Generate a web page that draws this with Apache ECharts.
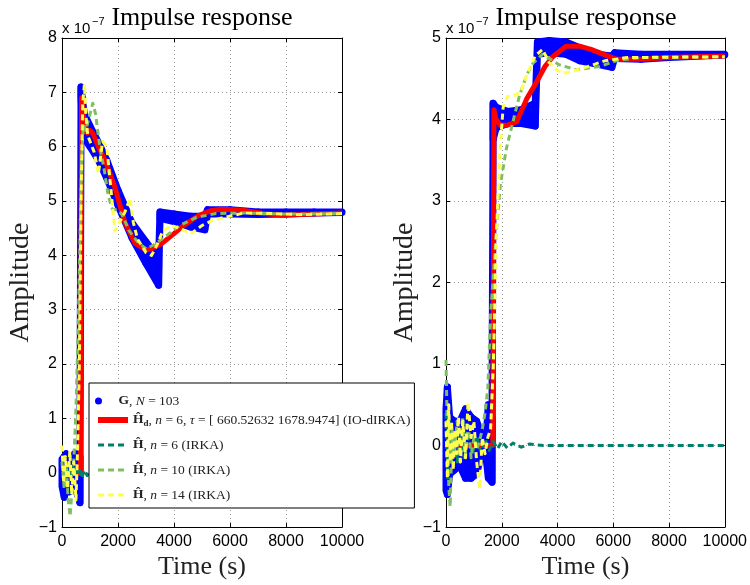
<!DOCTYPE html>
<html><head><meta charset="utf-8">
<script src="https://cdn.jsdelivr.net/npm/echarts@6/dist/echarts.min.js"></script>
<style>html,body{margin:0;padding:0;background:#fff}#c{width:750px;height:585px}</style>
</head><body><div id="c"></div>
<script>
// ---------- data (amplitude in units of 1e-7, time in s) ----------
// Left panel
const gLeftT  = [0, 80, 150, 250, 350, 450, 550, 640, 680, 720, 800, 1000, 1300, 1600, 2000, 2500, 3000, 3450, 3500, 4000, 4600, 5100, 5200, 6000, 7000, 8000, 9000, 10000];
const gLeftLo = [-0.25, -0.45, -0.2, -0.35, -0.3, -0.25, -0.4, -0.55, 6.9, 6.5, 6.15, 6.0, 5.75, 5.42, 4.92, 4.32, 3.85, 3.45, 4.68, 4.62, 4.52, 4.47, 4.76, 4.76, 4.75, 4.76, 4.78, 4.79];
const gLeftHi = [0.25, 0.3, 0.35, 0.25, 0.3, 0.35, 0.35, 0.3, 7.1, 6.9, 6.6, 6.38, 6.08, 5.75, 5.2, 4.6, 4.25, 3.95, 4.8, 4.76, 4.72, 4.72, 4.84, 4.84, 4.8, 4.8, 4.8, 4.8];

const hdLeftT = [0, 660, 700, 760, 820, 900, 1000, 1100, 1300, 1540, 1890, 2250, 2610, 3000, 3200, 3570, 4000, 4290, 4860, 5300, 5710, 6430, 7200, 7860, 9000, 10000];
const hdLeftY = [0, 0, 6.9, 6.6, 6.28, 6.25, 6.3, 6.25, 6.0, 5.75, 5.25, 4.6, 4.22, 4.1, 4.12, 4.22, 4.4, 4.53, 4.73, 4.82, 4.85, 4.83, 4.77, 4.74, 4.76, 4.78];

const h6LeftT = [0, 100, 200, 300, 400, 500, 600, 700, 800, 900, 1000, 1200, 10000];
const h6LeftY = [0.1, -0.1, 0.15, -0.1, 0.1, -0.05, 0.1, -0.1, 0.05, -0.05, 0.03, 0, 0];

const h10LeftT = [0, 80, 160, 220, 290, 360, 430, 500, 570, 640, 700, 760, 850, 950, 1100, 1200, 1350, 1500, 1650, 1800, 2000, 2150, 2400, 2700, 3000, 3300, 3700, 4200, 4800, 5500, 6500, 8000, 10000];
const h10LeftY = [0.2, -0.3, 0.1, -0.5, -0.8, -0.3, 0.3, 1.2, 2.5, 4.2, 5.8, 6.4, 6.3, 6.5, 6.8, 6.6, 6.0, 5.6, 5.1, 4.85, 4.83, 4.75, 4.45, 4.25, 4.12, 4.2, 4.35, 4.55, 4.7, 4.77, 4.78, 4.76, 4.77];

const h14LeftT = [0, 60, 120, 200, 280, 350, 420, 500, 560, 620, 680, 740, 800, 850, 920, 1000, 1150, 1300, 1450, 1600, 1750, 1890, 2050, 2250, 2430, 2550, 2700, 3000, 3200, 3400, 3600, 3900, 4200, 4600, 5000, 5400, 5800, 6500, 7500, 8500, 10000];
const h14LeftY = [0.5, -0.2, 0.3, -0.3, 0.4, -0.4, 0.2, -0.5, 0.5, 2.0, 5.0, 6.8, 7.15, 6.6, 6.2, 6.1, 5.9, 5.5, 6.1, 6.0, 5.2, 4.45, 4.6, 4.8, 5.05, 4.6, 4.3, 4.05, 4.0, 4.2, 4.45, 4.55, 4.5, 4.4, 4.55, 4.65, 4.7, 4.78, 4.77, 4.75, 4.77];

// Right panel
const gRightT  = [0, 50, 130, 300, 500, 700, 900, 1100, 1300, 1420, 1520, 1650, 1690, 1800, 2200, 2700, 3200, 3280, 3700, 4300, 4800, 5400, 5950, 6050, 7000, 8000, 10000];
const gRightLo = [-0.55, -0.6, -0.35, -0.3, -0.25, -0.4, -0.4, -0.35, -0.05, -0.1, -0.4, -0.45, 3.75, 3.9, 3.95, 3.95, 3.92, 4.8, 4.82, 4.8, 4.72, 4.68, 4.64, 4.75, 4.74, 4.76, 4.79];
const gRightHi = [0.45, 0.72, 0.35, 0.3, 0.3, 0.45, 0.35, 0.3, 0.1, 0.0, 0.5, 0.35, 4.2, 4.15, 4.1, 4.12, 4.2, 4.95, 4.97, 4.95, 4.88, 4.8, 4.78, 4.82, 4.8, 4.8, 4.8];

const hdRightT = [0, 1679, 1720, 1800, 1950, 2200, 2530, 2890, 3250, 3550, 3830, 4310, 4790, 5200, 5500, 6100, 7000, 8000, 10000];
const hdRightY = [0, 0, 4.12, 4.0, 3.93, 3.93, 3.97, 4.25, 4.46, 4.65, 4.77, 4.9, 4.9, 4.86, 4.82, 4.74, 4.74, 4.76, 4.78];

const h6RightT = [0, 60, 120, 200, 300, 400, 500, 650, 800, 950, 1100, 1250, 1400, 1550, 1700, 1850, 2000, 2200, 2400, 2700, 3000, 3500, 10000];
const h6RightY = [0.4, -0.4, 0.3, -0.2, 0.15, -0.2, 0.2, -0.15, 0.1, -0.1, 0.12, -0.08, 0.08, -0.06, 0.05, -0.04, 0.05, -0.03, 0.03, -0.02, 0.02, 0, 0];

const h10RightT = [0, 40, 100, 150, 220, 300, 400, 500, 600, 700, 800, 900, 1000, 1100, 1200, 1300, 1400, 1500, 1600, 1700, 1800, 1950, 2170, 2400, 2640, 2900, 3120, 3460, 3700, 4070, 4680, 5500, 6200, 7000, 10000];
const h10RightY = [1.05, 0.3, -0.5, -0.75, 0.2, -0.1, 0.3, -0.2, 0.35, -0.1, 0.25, -0.15, 0.1, -0.05, 0.05, 0.2, 0.4, 0.7, 1.6, 2.1, 2.6, 3.2, 3.65, 3.97, 4.3, 4.55, 4.69, 4.8, 4.75, 4.67, 4.61, 4.65, 4.73, 4.76, 4.77];

const h14RightT = [0, 50, 100, 150, 200, 260, 320, 380, 450, 520, 600, 700, 790, 900, 1000, 1100, 1210, 1300, 1400, 1500, 1600, 1700, 1800, 1930, 2050, 2200, 2500, 2700, 2900, 3200, 3460, 3700, 4000, 4310, 5000, 5700, 6500, 10000];
const h14RightY = [0.3, -0.4, 0.5, -0.2, 0.3, -0.3, 0.2, -0.1, 0.35, -0.2, 0.3, -0.15, 0.53, 0.1, 0.3, -0.2, -0.53, 0.1, -0.1, 0.1, 0.2, 1.0, 2.5, 3.6, 4.15, 4.28, 4.3, 4.35, 4.55, 4.78, 4.86, 4.7, 4.6, 4.57, 4.64, 4.72, 4.76, 4.77];

// axis ranges / labels
const xRange = [0, 10000, 2000];
const yLeftRange = [-1, 8, 1];
const yRightRange = [-1, 5, 1];
const titleText = 'Impulse response';
const xName = 'Time (s)';
const yName = 'Amplitude';
const scaleBase = 'x 10';
const scaleExp = '\u22127';

const legendLabels = {
  'G':   '{b|G}, {i|N} = 103',
  'Hd':  '{b|\u0124}{sub|d}, {i|n} = 6, {i|\u03c4} = [ 660.52632 1678.9474] (IO-dIRKA)',
  'H6':  '{b|\u0124}, {i|n} = 6 (IRKA)',
  'H10': '{b|\u0124}, {i|n} = 10 (IRKA)',
  'H14': '{b|\u0124}, {i|n} = 14 (IRKA)'
};

// ---------- styles ----------
const SERIF = '"Liberation Serif", "Times New Roman", serif';
const SANS = '"Liberation Sans", Arial, sans-serif';
const BLUE = '#0000ff', RED = '#ff0000', TEAL = '#00806a', GREEN = '#7fbf60', YELLOW = '#ffff50';
const DASH = [6, 4];
const FS = 13.5;

const grids = [
  {left: 62, top: 38, width: 280, height: 497},
  {left: 446, top: 38, width: 280, height: 498}
];

function pairs(t, y) { return t.map((v, i) => [v, y[i]]); }
const plainNum = v => String(v).replace('-', '\u2212');

function xAxisBottom(gi) {
  return {
    type: 'value', gridIndex: gi, min: xRange[0], max: xRange[1], interval: xRange[2],
    name: xName, nameLocation: 'middle', nameGap: 20,
    nameTextStyle: {fontFamily: SERIF, fontSize: 26, color: '#222'},
    axisLine: {show: true, onZero: false, lineStyle: {color: '#000', width: 1}},
    axisTick: {show: true, inside: true, length: 4, lineStyle: {color: '#000'}},
    axisLabel: {color: '#000', fontFamily: SANS, fontSize: 16, margin: 6, formatter: plainNum},
    splitLine: {show: true, lineStyle: {color: '#9a9a9a', type: [1, 3], width: 1}}
  };
}
function xAxisTop(gi) {
  return {
    type: 'value', gridIndex: gi, position: 'top', min: xRange[0], max: xRange[1], interval: xRange[2],
    axisLine: {show: true, onZero: false, lineStyle: {color: '#000', width: 1}},
    axisTick: {show: true, inside: true, length: 4, lineStyle: {color: '#000'}},
    axisLabel: {show: false}, splitLine: {show: false}
  };
}
function yAxisLeft(gi, r, gap) {
  return {
    type: 'value', gridIndex: gi, min: r[0], max: r[1], interval: r[2],
    name: yName, nameLocation: 'middle', nameGap: gap, nameRotate: 90,
    nameTextStyle: {fontFamily: SERIF, fontSize: 28, color: '#222'},
    axisLine: {show: true, onZero: false, lineStyle: {color: '#000', width: 1}},
    axisTick: {show: true, inside: true, length: 4, lineStyle: {color: '#000'}},
    axisLabel: {color: '#000', fontFamily: SANS, fontSize: 16, margin: 5, formatter: plainNum},
    splitLine: {show: true, lineStyle: {color: '#9a9a9a', type: [1, 3], width: 1}}
  };
}
function yAxisRight(gi, r) {
  return {
    type: 'value', gridIndex: gi, position: 'right', min: r[0], max: r[1], interval: r[2],
    axisLine: {show: true, onZero: false, lineStyle: {color: '#000', width: 1}},
    axisTick: {show: true, inside: true, length: 4, lineStyle: {color: '#000'}},
    axisLabel: {show: false}, splitLine: {show: false}
  };
}

// G: dense oscillating samples drawn as their envelope band (lower/upper)
function gBand(gi, t, lo, hi) {
  const data = t.map((v, i) => [v, lo[i], hi[i]]);
  return {
    type: 'custom', name: 'G', xAxisIndex: gi, yAxisIndex: gi, silent: true, animation: false,
    clip: false, data: data, encode: {x: 0, y: [1, 2]}, itemStyle: {color: BLUE},
    renderItem: function (params, api) {
      const i = params.dataIndex;
      if (i >= data.length - 1) return {type: 'group', children: []};
      const a = data[i], b = data[i + 1];
      const pts = [api.coord([a[0], a[1]]), api.coord([a[0], a[2]]), api.coord([b[0], b[2]]), api.coord([b[0], b[1]])];
      return {type: 'polygon', shape: {points: pts},
        style: {fill: BLUE, stroke: BLUE, lineWidth: 7, lineJoin: 'round'}};
    }
  };
}
function lineS(gi, name, t, y, color, width, dashed) {
  return {type: 'line', xAxisIndex: gi, yAxisIndex: gi, symbol: 'none', silent: true, clip: false, animation: false,
    name: name, data: pairs(t, y),
    lineStyle: {color: color, width: width, type: dashed ? DASH : 'solid', join: 'round'},
    itemStyle: {color: color}};
}

const series = [
  gBand(0, gLeftT, gLeftLo, gLeftHi),
  lineS(0, 'Hd', hdLeftT, hdLeftY, RED, 5, false),
  lineS(0, 'H6', h6LeftT, h6LeftY, TEAL, 3, true),
  lineS(0, 'H10', h10LeftT, h10LeftY, GREEN, 3, true),
  lineS(0, 'H14', h14LeftT, h14LeftY, YELLOW, 3, true),
  gBand(1, gRightT, gRightLo, gRightHi),
  lineS(1, 'Hd', hdRightT, hdRightY, RED, 5, false),
  lineS(1, 'H6', h6RightT, h6RightY, TEAL, 3, true),
  lineS(1, 'H10', h10RightT, h10RightY, GREEN, 3, true),
  lineS(1, 'H14', h14RightT, h14RightY, YELLOW, 3, true)
];

const richStyles = {
  b: {fontFamily: SERIF, fontSize: FS, fontWeight: 'bold', color: '#222', lineHeight: 16},
  i: {fontFamily: SERIF, fontSize: FS, fontStyle: 'italic', color: '#222', lineHeight: 16},
  sub: {fontFamily: SERIF, fontSize: 9, fontWeight: 'bold', color: '#222', lineHeight: 9, verticalAlign: 'bottom'}
};

function textEl(x, y, text, font, align) {
  return {type: 'text', x: x, y: y, silent: true, z: 100,
    style: {text: text, font: font, fill: '#000', align: align || 'center', verticalAlign: 'middle'}};
}

const graphics = [];
[[202, 62], [586, 446]].forEach(([cx, lx]) => {
  graphics.push(textEl(cx, 18, titleText, '26px ' + SERIF, 'center'));
  graphics.push(textEl(lx, 29, scaleBase, '15px ' + SANS, 'left'));
  graphics.push(textEl(lx + 30, 22, scaleExp, '11px ' + SANS, 'left'));
});

const option = {
  backgroundColor: '#fff',
  animation: false,
  grid: grids,
  xAxis: [xAxisBottom(0), xAxisBottom(1), xAxisTop(0), xAxisTop(1)],
  yAxis: [yAxisLeft(0, yLeftRange, 25), yAxisLeft(1, yRightRange, 23), yAxisRight(0, yLeftRange), yAxisRight(1, yRightRange)],
  series: series,
  graphic: {elements: graphics},
  legend: [
    {
      z: 10, orient: 'vertical', left: 89, top: 383,
      padding: [29, 4, 5, 6], itemGap: 9, itemWidth: 30, itemHeight: 16,
      backgroundColor: '#fff', borderColor: '#000', borderWidth: 1, borderRadius: 0,
      selectedMode: false, itemStyle: {opacity: 0},
      textStyle: {fontFamily: SERIF, fontSize: FS, color: '#222', lineHeight: 16, rich: richStyles},
      formatter: n => legendLabels[n],
      data: [
        {name: 'Hd', lineStyle: {width: 6}},
        {name: 'H6', lineStyle: {width: 3}},
        {name: 'H10', lineStyle: {width: 3}},
        {name: 'H14', lineStyle: {width: 3}}
      ]
    },
    {
      z: 11, orient: 'vertical', left: 95, top: 393, padding: 0,
      itemWidth: 30, itemHeight: 7, selectedMode: false,
      textStyle: {fontFamily: SERIF, fontSize: FS, color: '#222', lineHeight: 16, rich: richStyles},
      formatter: n => legendLabels[n],
      data: [{name: 'G', icon: 'circle', itemStyle: {color: BLUE, opacity: 1}}]
    }
  ]
};

const chart = echarts.init(document.getElementById('c'), null, {renderer: 'canvas'});
chart.setOption(option);
</script></body></html>
